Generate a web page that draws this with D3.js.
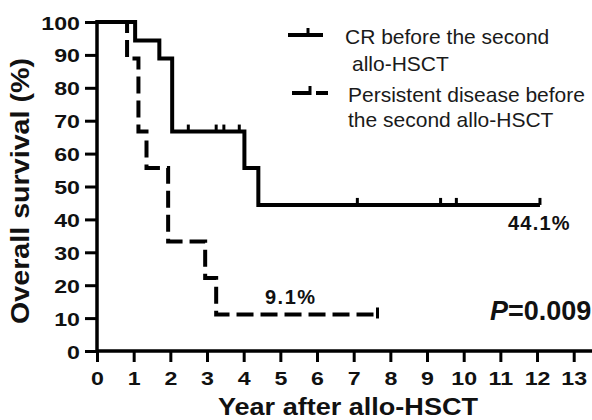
<!DOCTYPE html>
<html><head><meta charset="utf-8">
<script src="https://cdn.jsdelivr.net/npm/d3@7"></script>
<style>
body{margin:0;background:#fff;}
svg{display:block;}
text{font-family:"Liberation Sans",Arial,sans-serif;}
</style></head>
<body>
<svg id="chart" width="592" height="420"></svg>
<script>
// ---- data ----
const xTicks = [0,1,2,3,4,5,6,7,8,9,10,11,12,13];
const yTicks = [0,10,20,30,40,50,60,70,80,90,100];
const crTimes = [0, 1.04, 1.70, 2.05, 4.02, 4.40, 12.08];
const crSurv  = [100, 94.4, 88.9, 66.7, 55.6, 44.4, 44.4];
const crCensor = [2.49, 3.25, 3.46, 3.88, 7.10, 9.37, 9.80, 12.08];
const pdTimes = [0, 0.82, 1.13, 1.35, 1.94, 2.95, 3.25, 7.65];
const pdSurv  = [100, 88.9, 66.7, 55.6, 33.3, 22.2, 11.1, 11.1];
const pdCensor = [7.65];
const legendLabels = [["CR before the second", "allo-HSCT"], ["Persistent disease before", "the second allo-HSCT"]];
const xTitle = "Year after allo-HSCT";
const yTitle = "Overall survival (%)";
const crLabel = "44.1%";
const pdLabel = "9.1%";

const svg = d3.select("#chart");
const x = d3.scaleLinear().domain([0,13]).range([97, 573.7]);
const y = d3.scaleLinear().domain([0,100]).range([351, 22]);
const SX = 1.22;

// axes
const gy = svg.append("g").attr("transform", `translate(${x(0)},0)`)
  .call(d3.axisLeft(y).tickValues(yTicks).tickSize(12).tickSizeOuter(0).tickPadding(5));
gy.select(".domain").attr("stroke-width", 3.5).attr("d", `M0,${y(0)+1.5}V${y(100)-2}`);
gy.selectAll(".tick line").attr("stroke-width", 3);
gy.selectAll(".tick text").attr("x", -17/SX).attr("dy","0.37em")
  .attr("transform", `scale(${SX},1)`)
  .style("font-size","19px").style("font-weight","bold").attr("fill","#111");

const gx = svg.append("g").attr("transform", `translate(0,${y(0)})`)
  .call(d3.axisBottom(x).tickValues(xTicks).tickSize(11).tickSizeOuter(0));
gx.select(".domain").attr("stroke-width", 3.5).attr("d", `M${x(0)},0H${x(13.5)}`);
gx.selectAll(".tick line").attr("stroke-width", 3);
gx.selectAll(".tick text").attr("y", 34).attr("dy", 0)
  .attr("transform", `scale(${SX},1)`)
  .style("font-size","19px").style("font-weight","bold").attr("fill","#111");
svg.selectAll(".domain, .tick line").attr("stroke","#000");

// titles
svg.append("text").attr("x", 348).attr("y", 415).attr("text-anchor","middle")
  .attr("textLength", 260).attr("lengthAdjust","spacingAndGlyphs")
  .style("font-size","23px").style("font-weight","bold").attr("fill","#111").text(xTitle);
svg.append("text").attr("transform","translate(29,191) rotate(-90)").attr("text-anchor","middle")
  .attr("textLength", 266).attr("lengthAdjust","spacingAndGlyphs")
  .style("font-size","25px").style("font-weight","bold").attr("fill","#111").text(yTitle);

// curves
const line = d3.line().curve(d3.curveStepAfter).x(d=>x(d[0])).y(d=>y(d[1]));
const crData = crTimes.map((t,i)=>[t, crSurv[i]]);
const pdData = pdTimes.map((t,i)=>[t, pdSurv[i]]);
function survAt(times, surv, t){ let s = surv[0]; for(let i=0;i<times.length;i++){ if(times[i]<=t) s = surv[i]; } return s; }

svg.append("path").attr("d", line(pdData)).attr("fill","none").attr("stroke","#000")
  .attr("stroke-width",4).attr("stroke-dasharray","17,7");
svg.append("path").attr("d", line(crData)).attr("fill","none").attr("stroke","#000")
  .attr("stroke-width",4);

svg.selectAll(".crc").data(crCensor).enter().append("line")
  .attr("x1", d=>x(d)).attr("x2", d=>x(d))
  .attr("y1", d=>y(survAt(crTimes,crSurv,d))).attr("y2", d=>y(survAt(crTimes,crSurv,d))-7)
  .attr("stroke","#000").attr("stroke-width",3);
svg.selectAll(".pdc").data(pdCensor).enter().append("line")
  .attr("x1", d=>x(d)).attr("x2", d=>x(d))
  .attr("y1", d=>y(survAt(pdTimes,pdSurv,d))+4).attr("y2", d=>y(survAt(pdTimes,pdSurv,d))-7)
  .attr("stroke","#000").attr("stroke-width",3);

// annotations
svg.append("text").attr("x",508).attr("y",230).style("font-size","20px").style("font-weight","bold")
  .style("letter-spacing","1.2px").attr("fill","#111").text(crLabel);
svg.append("text").attr("x",265).attr("y",304).style("font-size","20px").style("font-weight","bold")
  .style("letter-spacing","1.5px").attr("fill","#111").text(pdLabel);
const pt = svg.append("text").attr("x",490).attr("y",320).style("font-size","27px").style("font-weight","bold").attr("fill","#111");
pt.append("tspan").style("font-style","italic").text("P");
pt.append("tspan").text("=0.009");

// legend
const lg = svg.append("g");
lg.append("line").attr("x1",288).attr("x2",323).attr("y1",35).attr("y2",35).attr("stroke","#000").attr("stroke-width",4);
lg.append("line").attr("x1",308).attr("x2",308).attr("y1",35).attr("y2",28).attr("stroke","#000").attr("stroke-width",3);
lg.append("line").attr("x1",292).attr("x2",310).attr("y1",93).attr("y2",93).attr("stroke","#000").attr("stroke-width",4);
lg.append("line").attr("x1",316).attr("x2",328).attr("y1",93).attr("y2",93).attr("stroke","#000").attr("stroke-width",4);
lg.append("line").attr("x1",310).attr("x2",310).attr("y1",95).attr("y2",86).attr("stroke","#000").attr("stroke-width",3);
const lt = [[345,44],[352,71],[348,102],[348,127]];
const flat = [legendLabels[0][0], legendLabels[0][1], legendLabels[1][0], legendLabels[1][1]];
flat.forEach((s,i)=>{
  lg.append("text").attr("x",lt[i][0]).attr("y",lt[i][1]).style("font-size","21px").attr("fill","#1a1a1a").text(s);
});
</script>
</body></html>
